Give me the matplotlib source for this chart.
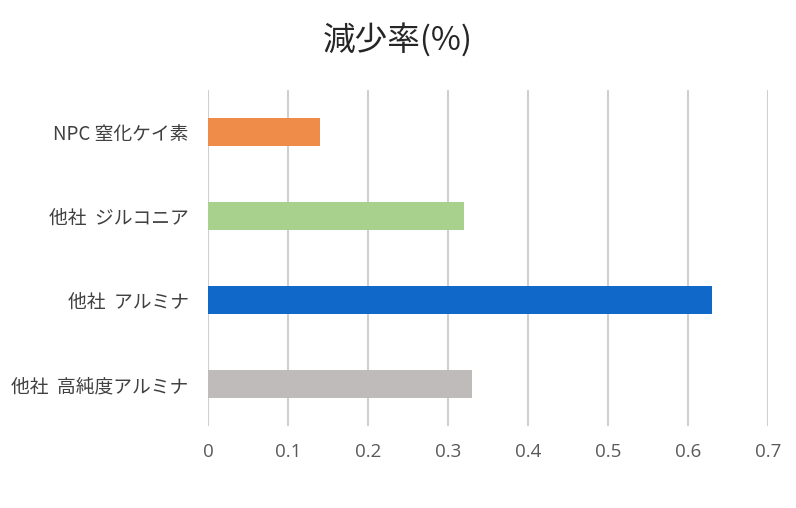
import matplotlib
matplotlib.use("Agg")
import matplotlib.pyplot as plt

plt.rcParams['font.family'] = ['Noto Sans CJK JP', 'DejaVu Sans']

categories = ["NPC 窒化ケイ素", "他社  ジルコニア", "他社  アルミナ", "他社  高純度アルミナ"]
values = [0.14, 0.32, 0.63, 0.33]
colors = ["#F08C4A", "#A9D18E", "#1068C8", "#BFBBBB"]
xticks = [0, 0.1, 0.2, 0.3, 0.4, 0.5, 0.6, 0.7]
xticklabels = ["0", "0.1", "0.2", "0.3", "0.4", "0.5", "0.6", "0.7"]
title = "減少率(%)"

fig = plt.figure(figsize=(7.96, 5.08), dpi=100)
ax = fig.add_axes([208/796, 1-426/508, 560/796, 336/508])

ypos = list(range(len(categories)))
ax.barh(ypos, values, height=0.33, color=colors, zorder=3)
ax.set_ylim(len(categories)-0.5, -0.5)
ax.set_xlim(0, 0.7)
ax.set_yticks(ypos)
ax.set_yticklabels(categories, fontsize=13.5, color="#404040")
ax.set_xticks(xticks)
ax.set_xticklabels(xticklabels, fontsize=13.5, color="#595959", family=['Open Sans', 'DejaVu Sans'])
ax.grid(axis='x', color="#D0D0D0", linewidth=1.5, zorder=0)
ax.tick_params(axis='both', length=0)
ax.tick_params(axis='x', pad=12)
ax.tick_params(axis='y', pad=14)
for s in ax.spines.values():
    s.set_visible(False)

fig.text(0.5, 1-40/508, title, ha='center', va='center', fontsize=23.5, color="#262626")

fig.savefig("out.png", dpi=100, facecolor="white")
